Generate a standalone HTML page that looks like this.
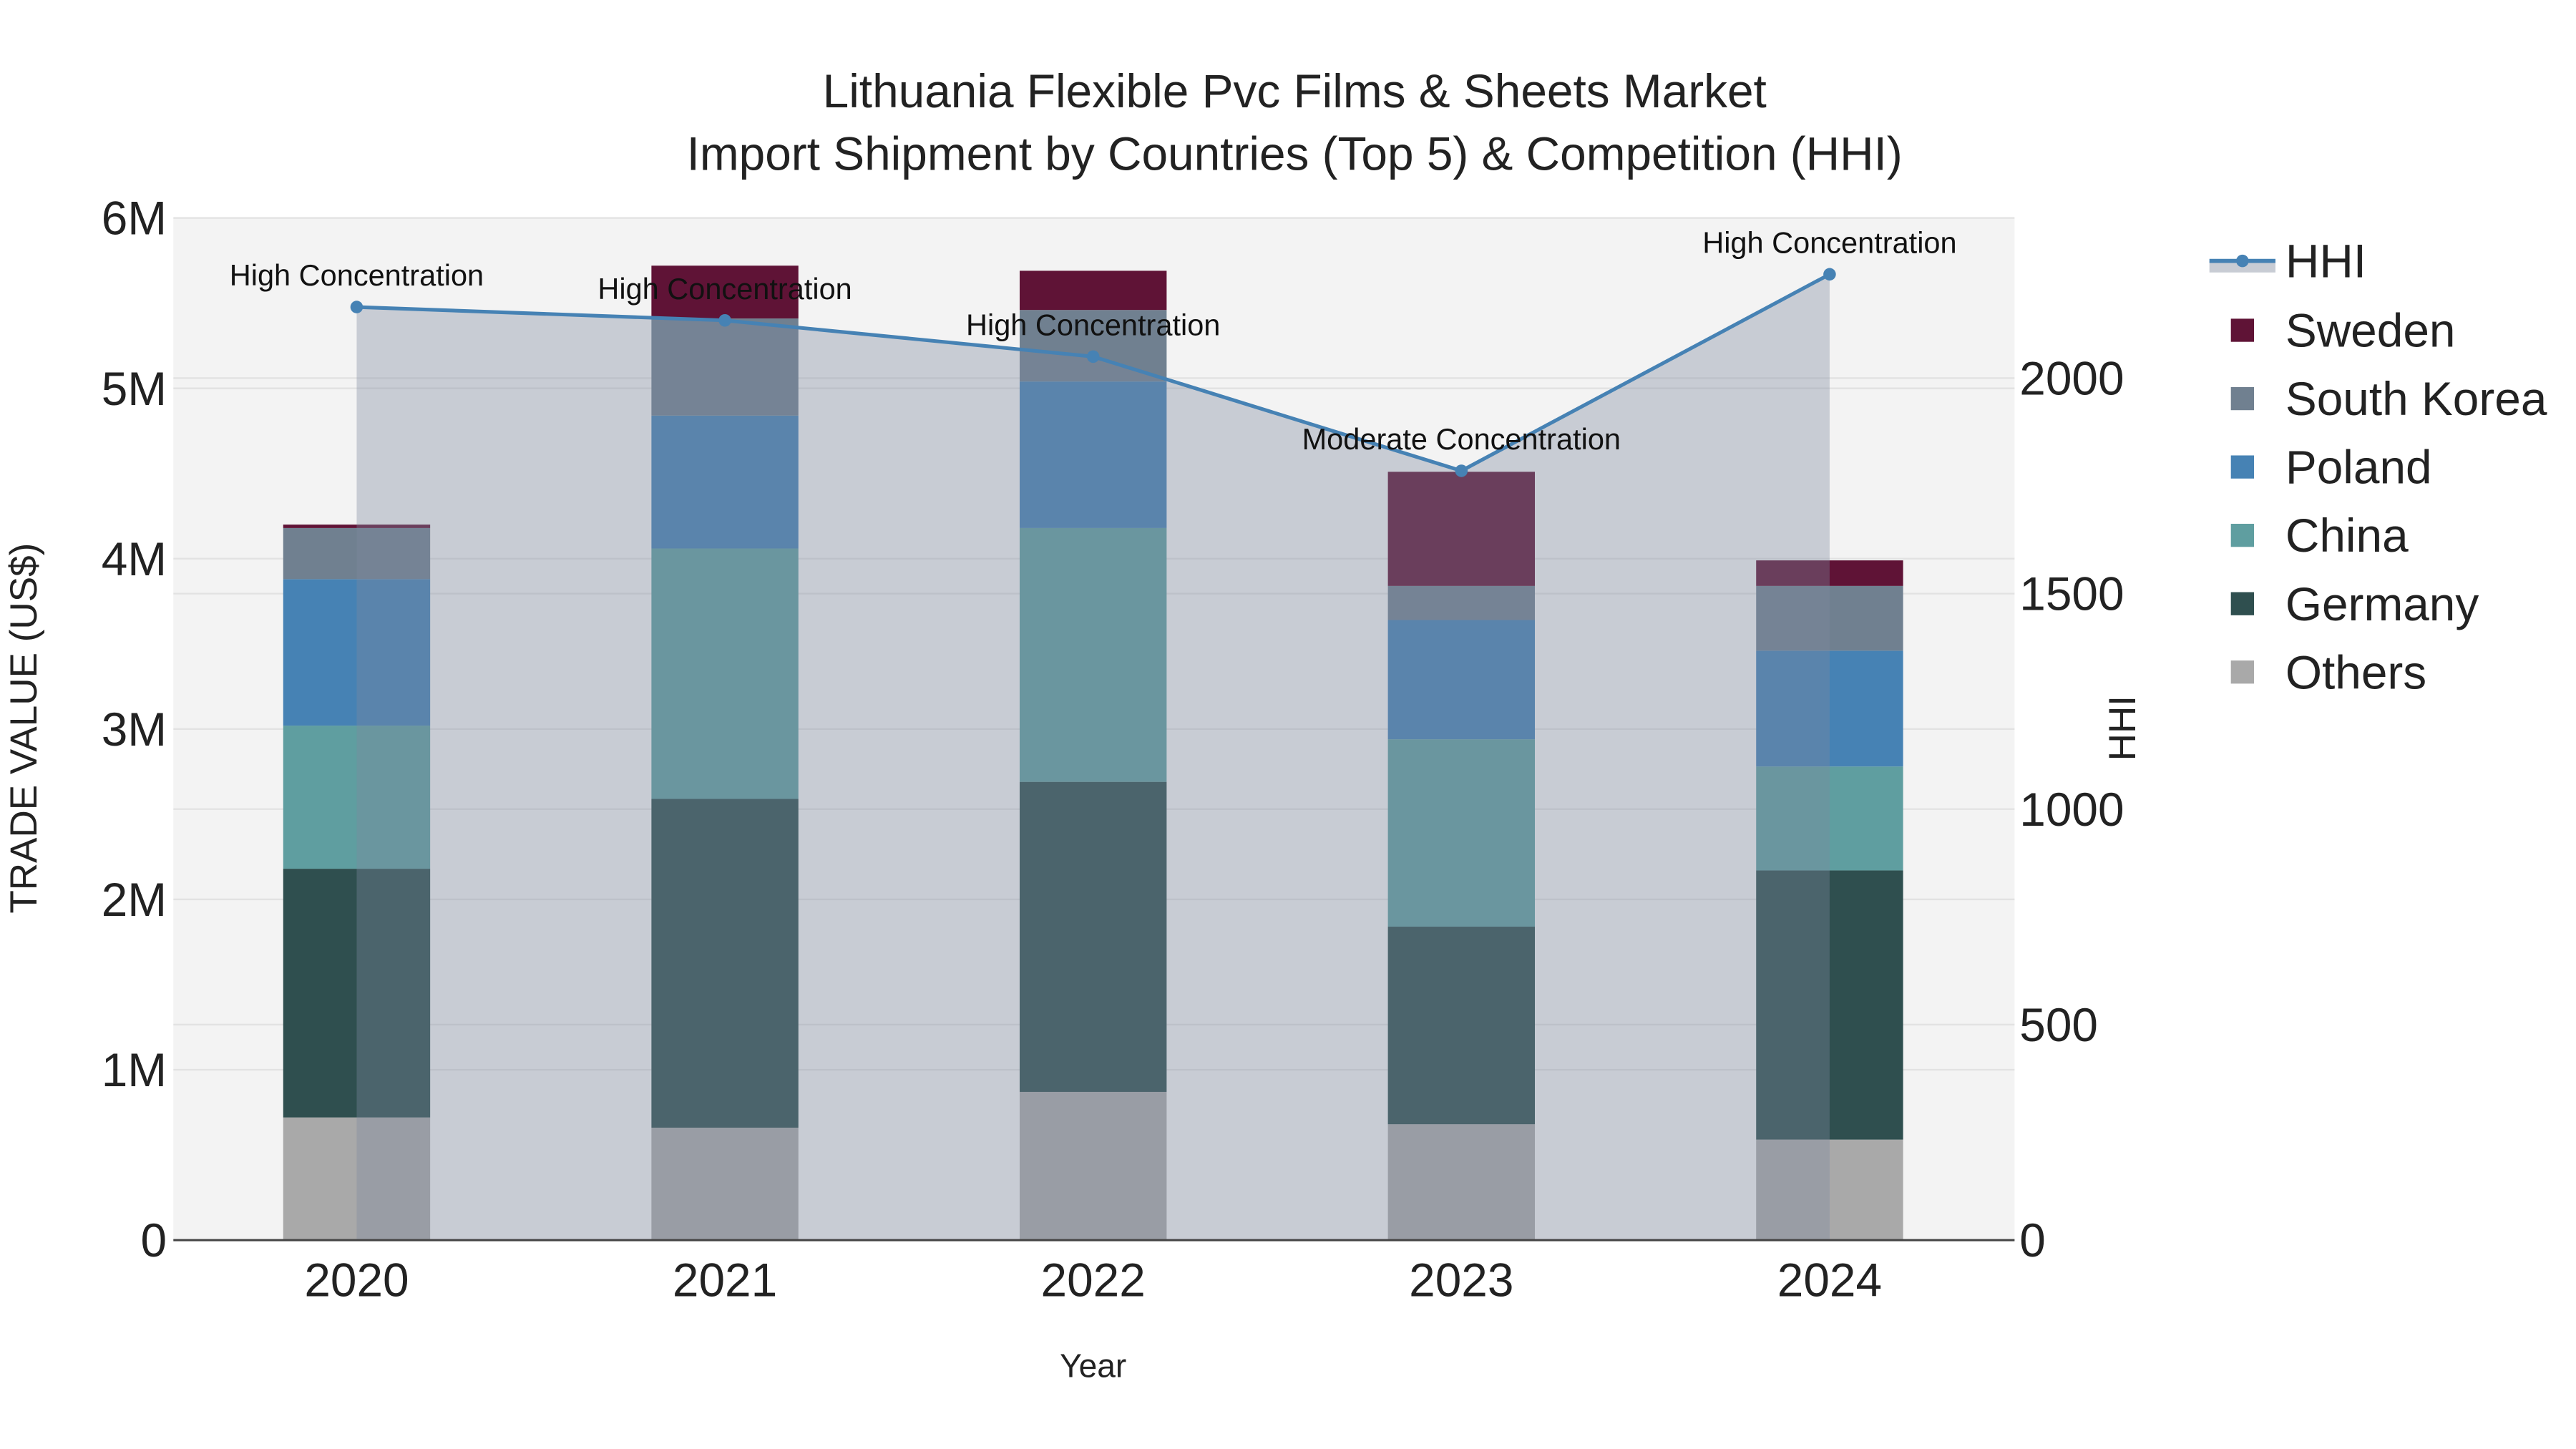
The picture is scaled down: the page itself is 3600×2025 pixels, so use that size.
<!DOCTYPE html>
<html><head><meta charset="utf-8"><style>
html,body{margin:0;padding:0;background:#fff;}
svg{display:block;font-family:"Liberation Sans",Arial,sans-serif;}
</style></head><body>
<svg id="chart" width="3600" height="2025" viewBox="0 0 1560 877.5" xmlns="http://www.w3.org/2000/svg">
<rect x="0" y="0" width="1560" height="877.5" fill="#fff"/>
<rect x="105" y="132" width="1115" height="619" fill="#f3f3f3"/>
<g id="grid"></g>
<g id="bars"></g>
<g id="area"></g>
<line x1="105" y1="751" x2="1220" y2="751" stroke="#444" stroke-width="1.3"/>
<g id="ticks"></g>
<text x="784" y="65" text-anchor="middle" font-size="28.5" fill="#222">Lithuania Flexible Pvc Films &amp; Sheets Market</text>
<text x="784" y="103" text-anchor="middle" font-size="28.5" fill="#222">Import Shipment by Countries (Top 5) &amp; Competition (HHI)</text>
<text x="662" y="834" text-anchor="middle" font-size="20" fill="#222">Year</text>
<text transform="translate(22,441) rotate(-90)" text-anchor="middle" font-size="23" fill="#222">TRADE VALUE (US$)</text>
<text transform="translate(1293,441) rotate(-90)" text-anchor="middle" font-size="23" fill="#222">HHI</text>
<g id="legend"></g>
</svg>
<script>
const years = ["2020","2021","2022","2023","2024"];
const countries = ["Others","Germany","China","Poland","South Korea","Sweden"];
const others = [0.72,0.66,0.87,0.68,0.59];
const germany = [1.46,1.93,1.82,1.16,1.58];
const china = [0.84,1.47,1.49,1.10,0.61];
const poland = [0.86,0.78,0.86,0.70,0.68];
const southKorea = [0.30,0.57,0.42,0.20,0.38];
const sweden = [0.02,0.31,0.23,0.67,0.15];
const hhi = [2165,2134,2050,1785,2241];
const hhiLabels = ["High Concentration","High Concentration","High Concentration","Moderate Concentration","High Concentration"];
const yTicks = [0,1,2,3,4,5,6];
const yTickLabels = ["0","1M","2M","3M","4M","5M","6M"];
const y2Ticks = [0,500,1000,1500,2000];

const NS="http://www.w3.org/2000/svg";
const series=[others,germany,china,poland,southKorea,sweden];
const colors=["#a9a9a9","#2f4f4f","#5f9ea0","#4682b4","#708090","#5f1336"];
const plotBase=751, plotTop=132;
function yV(v){return plotBase-(v/6)*(plotBase-plotTop);}
function yH(h){return plotBase-h*0.261;}
function xC(i){return 216+i*223;}
const bw=89;
function mk(tag,attrs,parent){const e=document.createElementNS(NS,tag);for(const k in attrs)e.setAttribute(k,attrs[k]);parent.appendChild(e);return e;}

const grid=document.getElementById('grid');
yTicks.forEach(t=>{const l=mk('line',{x1:105,x2:1220,y1:yV(t),y2:yV(t),stroke:'#e2e2e2','stroke-width':1},grid);

});
y2Ticks.forEach(t=>{const l=mk('line',{x1:105,x2:1220,y1:yH(t),y2:yH(t),stroke:'#e2e2e2','stroke-width':1},grid);

});

const bars=document.getElementById('bars');
years.forEach((yr,i)=>{let cum=0;
series.forEach((s,k)=>{const y0=yV(cum),y1=yV(cum+s[i]);cum+=s[i];
const r=mk('rect',{x:xC(i)-bw/2,y:y1,width:bw,height:Math.max(0,y0-y1),fill:colors[k]},bars);

});});

const area=document.getElementById('area');
let d='M'+xC(0)+','+plotBase;
hhi.forEach((h,i)=>{d+=' L'+xC(i)+','+yH(h);});
d+=' L'+xC(hhi.length-1)+','+plotBase+' Z';
const ar=mk('path',{d:d,fill:'rgb(125,136,158)','fill-opacity':0.365},area);


const ln=mk('polyline',{points:hhi.map((h,i)=>xC(i)+','+yH(h)).join(' '),fill:'none',stroke:'#4682b4','stroke-width':2.2},area);


hhi.forEach((h,i)=>{const c=mk('circle',{cx:xC(i),cy:yH(h),r:3.8,fill:'#4682b4'},area);


const t=mk('text',{x:xC(i),y:yH(h)-13,'text-anchor':'middle','font-size':18,fill:'#111'},area);t.textContent=hhiLabels[i];

});

const ticks=document.getElementById('ticks');
yTicks.forEach((t,i)=>{const e=mk('text',{x:101,y:yV(t)+10,'text-anchor':'end','font-size':28.5,fill:'#222'},ticks);e.textContent=yTickLabels[i];

});
y2Ticks.forEach(t=>{const e=mk('text',{x:1223,y:yH(t)+10,'text-anchor':'start','font-size':28.5,fill:'#222'},ticks);e.textContent=String(t);

});
years.forEach((yr,i)=>{const e=mk('text',{x:xC(i),y:785,'text-anchor':'middle','font-size':28.5,fill:'#222'},ticks);e.textContent=yr;

});

const lg=document.getElementById('legend');
const lh=mk('g',{},lg);


mk('rect',{x:1338,y:158,width:40,height:7,fill:'#c8ccd4'},lh);
mk('line',{x1:1338,x2:1378,y1:158,y2:158,stroke:'#4682b4','stroke-width':2.5},lh);
mk('circle',{cx:1358,cy:158,r:3.8,fill:'#4682b4'},lh);
const th=mk('text',{x:1384,y:168,'font-size':28.5,fill:'#222'},lh);th.textContent='HHI';
const legOrder=[5,4,3,2,1,0];
legOrder.forEach((k,j)=>{const cy=200+j*41.4;const g=mk('g',{},lg);


mk('rect',{x:1351,y:cy-7,width:14,height:14,fill:colors[k]},g);
const t=mk('text',{x:1384,y:cy+10,'font-size':28.5,fill:'#222'},g);t.textContent=countries[k];});
</script>
</body></html>
